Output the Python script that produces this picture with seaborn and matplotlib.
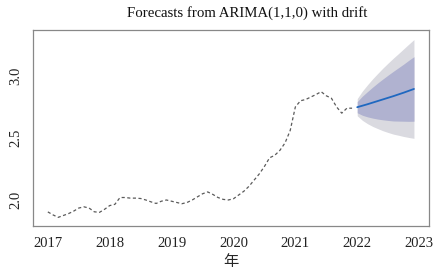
import numpy as np
import pandas as pd
import matplotlib
matplotlib.use("Agg")
import matplotlib.pyplot as plt
import seaborn as sns

# Observed monthly series (Jan 2017 - Dec 2021)
obs_values = [
    1.904, 1.88, 1.86, 1.875, 1.89, 1.91, 1.935, 1.945, 1.935, 1.905, 1.90, 1.925,
    1.955, 1.965, 2.02, 2.02, 2.015, 2.015, 2.012, 2.00, 1.985, 1.972, 1.99, 2.00,
    1.99, 1.98, 1.97, 1.98, 2.00, 2.025, 2.05, 2.065, 2.045, 2.02, 2.005, 2.00,
    2.01, 2.04, 2.07, 2.11, 2.16, 2.21, 2.27, 2.34, 2.36, 2.40, 2.46, 2.56,
    2.75, 2.80, 2.81, 2.83, 2.85, 2.873, 2.84, 2.82, 2.75, 2.70, 2.74, 2.74,
]
obs_start = 2017.0

# Forecast (Jan 2022 - Dec 2022)
fc_mean = [2.748, 2.760, 2.772, 2.785, 2.798, 2.811, 2.824, 2.837, 2.851, 2.865, 2.880, 2.895]
fc_lo80 = [2.703, 2.683, 2.670, 2.660, 2.652, 2.646, 2.641, 2.637, 2.636, 2.635, 2.634, 2.635]
fc_hi80 = [2.793, 2.837, 2.874, 2.910, 2.944, 2.976, 3.007, 3.037, 3.066, 3.095, 3.126, 3.155]
fc_lo95 = [2.679, 2.642, 2.615, 2.593, 2.575, 2.558, 2.544, 2.531, 2.522, 2.512, 2.504, 2.497]
fc_hi95 = [2.817, 2.878, 2.929, 2.977, 3.021, 3.064, 3.104, 3.143, 3.180, 3.218, 3.256, 3.293]
fc_start = 2022.0

x_ticks = [2017, 2018, 2019, 2020, 2021, 2022, 2023]
y_ticks = [2.0, 2.5, 3.0]

title = "Forecasts from ARIMA(1,1,0) with drift"
xlabel = "年"

obs = pd.DataFrame({"t": obs_start + np.arange(len(obs_values)) / 12.0, "v": obs_values})
fc = pd.DataFrame({"t": fc_start + np.arange(len(fc_mean)) / 12.0, "m": fc_mean,
                   "lo80": fc_lo80, "hi80": fc_hi80, "lo95": fc_lo95, "hi95": fc_hi95})

sns.set_style("white")
plt.rcParams["font.family"] = ["Liberation Serif", "Noto Sans CJK SC", "DejaVu Sans"]

fig = plt.figure(figsize=(4.41, 2.73), dpi=100)
ax = fig.add_axes([0.0748, 0.172, 0.898, 0.718])

ax.fill_between(fc["t"], fc["lo95"], fc["hi95"], color="#dadae0", linewidth=0)
ax.fill_between(fc["t"], fc["lo80"], fc["hi80"], color="#b0b2d0", linewidth=0)
sns.lineplot(data=obs, x="t", y="v", ax=ax, color="#5a5a5a", linewidth=0.9,
             linestyle=(0, (2.5, 2)))
sns.lineplot(data=fc, x="t", y="m", ax=ax, color="#1f68c0", linewidth=1.3)

ax.set_xlim(2016.76, 2023.16)
ax.set_ylim(1.79, 3.37)
ax.set_xticks(x_ticks)
ax.set_xticklabels([str(v) for v in x_ticks], fontsize=10.5, color="#222222")
ax.set_yticks(y_ticks)
ax.set_yticklabels([f"{v:.1f}" for v in y_ticks], fontsize=10.5, color="#222222",
                   rotation=90, va="center")
ax.tick_params(axis="both", direction="out", length=5, width=0.8, color="#888888", pad=3)
ax.set_ylabel("")
ax.set_xlabel(xlabel, fontsize=11, family=["Noto Sans CJK SC", "DejaVu Sans"], labelpad=2)
fig.text(0.561, 0.952, title, fontsize=10.7, ha="center", va="center", color="#111111")
for s in ax.spines.values():
    s.set_color("#888888")
    s.set_linewidth(0.9)

fig.savefig("out.png", dpi=100)
